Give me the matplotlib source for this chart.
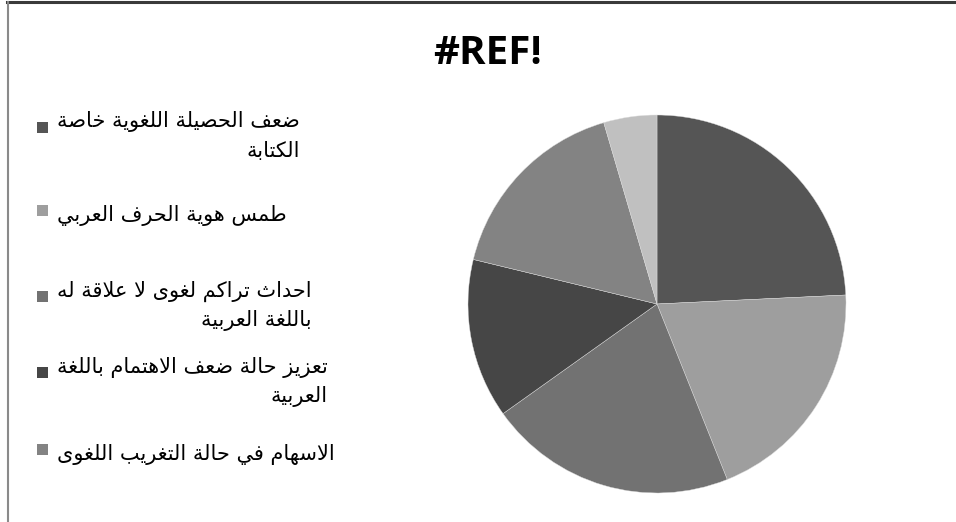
import matplotlib
matplotlib.use("Agg")
import matplotlib.pyplot as plt
from matplotlib.patches import Rectangle
from matplotlib.lines import Line2D

# Survey answers (counts) and their legend labels
labels = [
    "ضعف الحصيلة اللغوية خاصة\nالكتابة",
    "طمس هوية الحرف العربي",
    "احداث تراكم لغوى لا علاقة له\nباللغة العربية",
    "تعزيز حالة ضعف الاهتمام باللغة\nالعربية",
    "الاسهام في حالة التغريب اللغوى",
]
counts = [16, 13, 14, 9, 11, 3]
colors = ["#555555", "#9e9e9e", "#727272", "#464646", "#838383", "#c0c0c0"]
title = "#REF!"

# matplotlib has no Arabic shaping, so map letters to their
# contextual presentation forms and lay them out right-to-left.
FORMS = {
    "ا": 0xFE8D, "ب": 0xFE8F, "ة": 0xFE93, "ت": 0xFE95, "ث": 0xFE99,
    "ج": 0xFE9D, "ح": 0xFEA1, "خ": 0xFEA5, "د": 0xFEA9, "ذ": 0xFEAB,
    "ر": 0xFEAD, "ز": 0xFEAF, "س": 0xFEB1, "ش": 0xFEB5, "ص": 0xFEB9,
    "ض": 0xFEBD, "ط": 0xFEC1, "ظ": 0xFEC5, "ع": 0xFEC9, "غ": 0xFECD,
    "ف": 0xFED1, "ق": 0xFED5, "ك": 0xFED9, "ل": 0xFEDD, "م": 0xFEE1,
    "ن": 0xFEE5, "ه": 0xFEE9, "و": 0xFEED, "ى": 0xFEEF, "ي": 0xFEF1,
}
RIGHT_ONLY = set("اةدذرزوى")


def shape_line(s):
    out = []
    i, n = 0, len(s)
    while i < n:
        c = s[i]
        if c not in FORMS:
            out.append(c)
            i += 1
            continue
        joins_prev = i > 0 and s[i - 1] in FORMS and s[i - 1] not in RIGHT_ONLY
        if c == "ل" and i + 1 < n and s[i + 1] == "ا":
            out.append("\uFEFC" if joins_prev else "\uFEFB")
            i += 2
            continue
        joins_next = c not in RIGHT_ONLY and i + 1 < n and s[i + 1] in FORMS
        base = FORMS[c]
        if joins_prev and joins_next:
            out.append(chr(base + 3))
        elif joins_prev:
            out.append(chr(base + 1))
        elif joins_next:
            out.append(chr(base + 2))
        else:
            out.append(chr(base))
        i += 1
    return "".join(reversed(out))


def shape(text):
    return "\n".join(shape_line(line) for line in text.split("\n"))


W, H = 956, 522
fig = plt.figure(figsize=(W / 100, H / 100), dpi=100)
fig.patch.set_facecolor("white")

# pie centred at (657, 304) px with radius 189 px
cx, cy, r = 657, 304, 189
ax = fig.add_axes([(cx - r) / W, (H - cy - r) / H, 2 * r / W, 2 * r / H])
ax.pie(counts, colors=colors, startangle=90, counterclock=False,
       wedgeprops=dict(linewidth=0.3, edgecolor="#dddddd"))
ax.set_xlim(-1, 1)
ax.set_ylim(-1, 1)
ax.set_aspect("equal")
ax.axis("off")

fig.text(488 / W, 1 - 53 / H, title, fontsize=29, fontweight="bold",
         family="Open Sans", ha="center", va="center")

# legend: square marker on the left, text block wrapped right-to-left
legend_y = [127, 210, 296, 372, 449]
sq = 11
for lab, col, y in zip(labels, colors, legend_y):
    fig.patches.append(Rectangle((37 / W, 1 - (y + sq / 2) / H), sq / W, sq / H,
                                 transform=fig.transFigure, facecolor=col,
                                 edgecolor="none"))
    fig.text(57 / W, 1 - (y + 3) / H, shape(lab), fontsize=15, family="DejaVu Sans",
             ha="left", va="center_baseline", multialignment="right",
             linespacing=1.55, color="black")

# chart border along the top and left edge
fig.add_artist(Line2D([7 / W, 1], [1 - 1.5 / H, 1 - 1.5 / H],
                      transform=fig.transFigure, color="#3a3a3a", linewidth=2.2))
fig.add_artist(Line2D([8 / W, 8 / W], [0, 1 - 1.5 / H],
                      transform=fig.transFigure, color="#8a8a8a", linewidth=1.5))

fig.savefig("out.png", dpi=100)
